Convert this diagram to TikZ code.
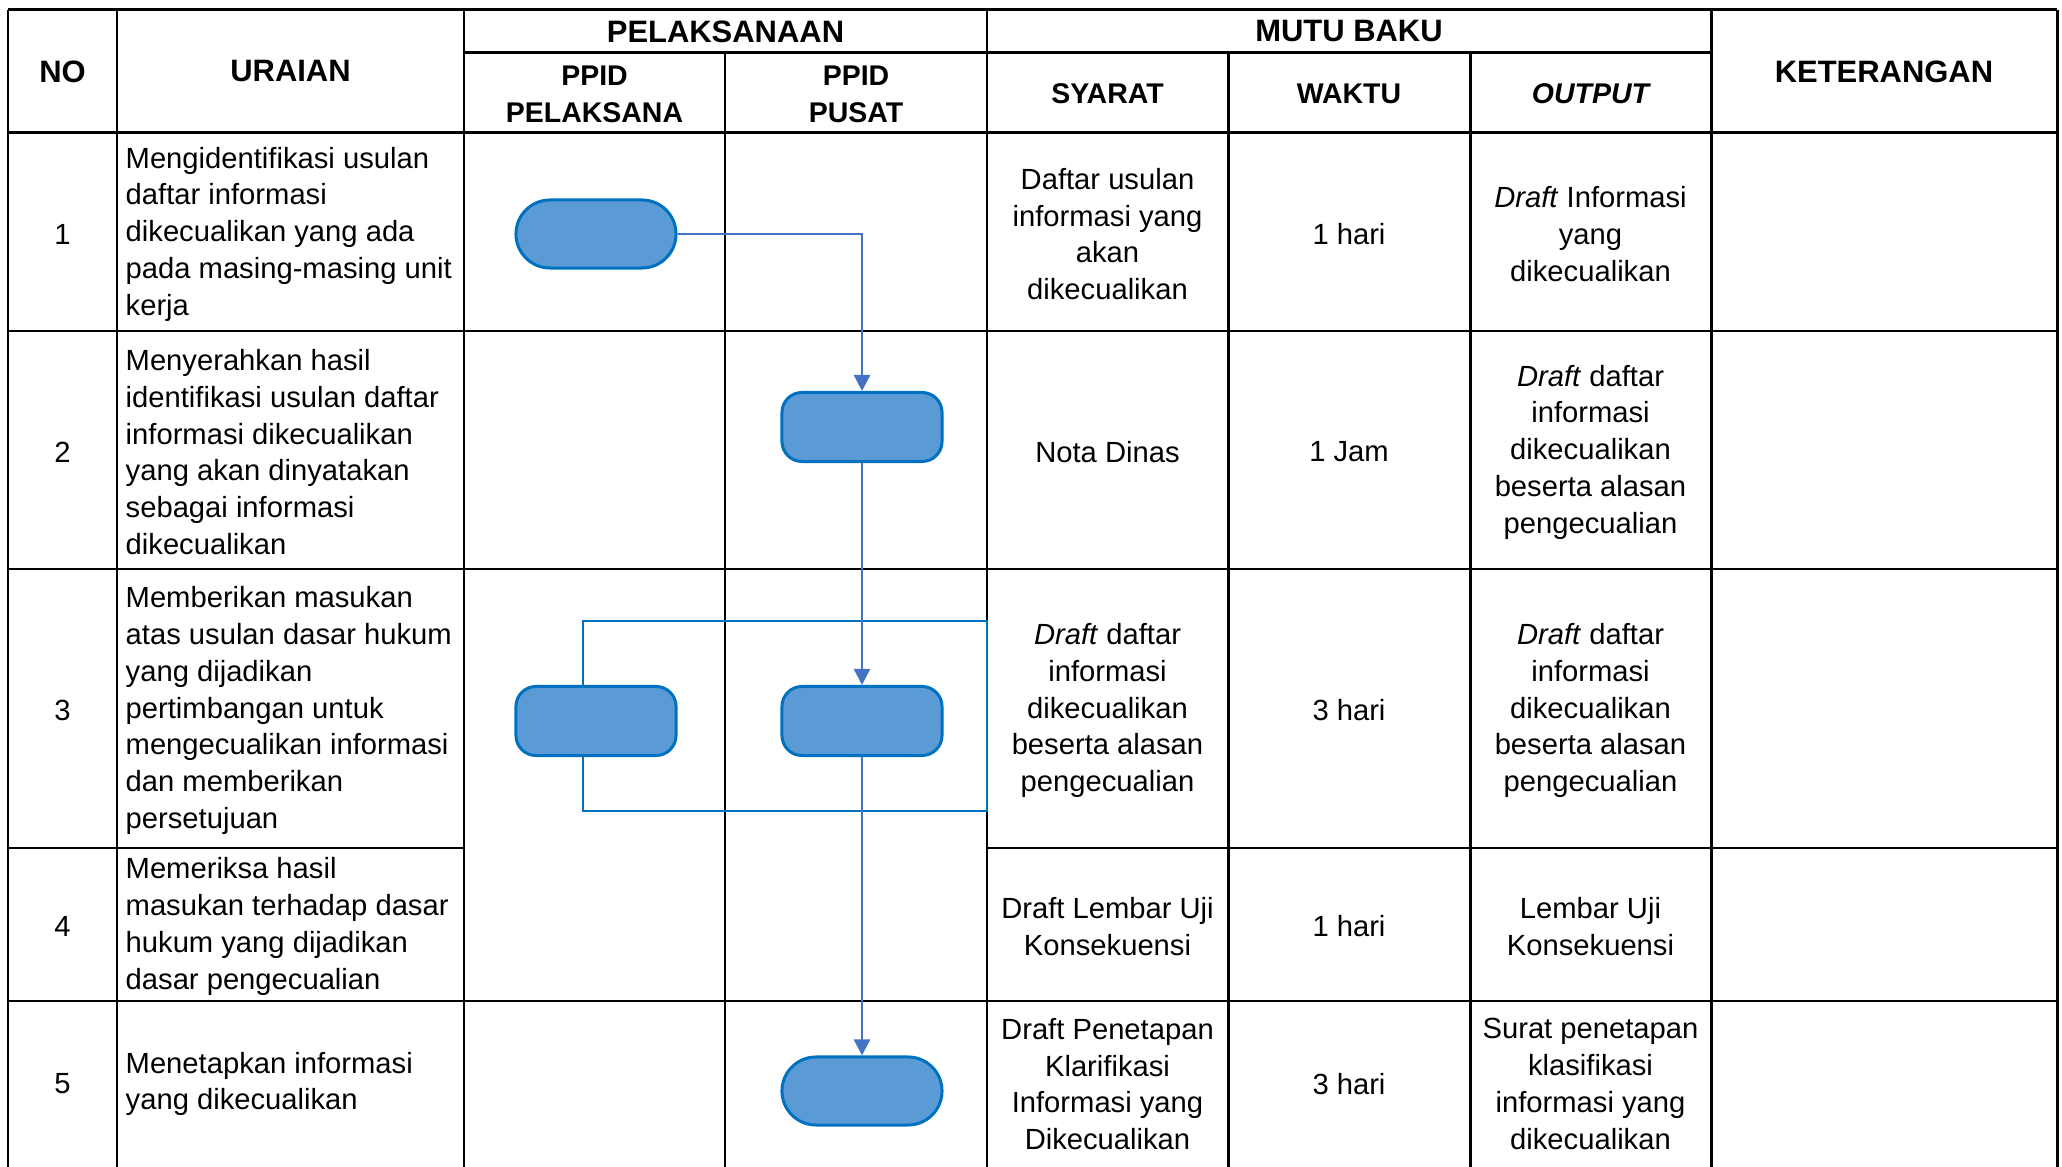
\documentclass[tikz,border=0pt]{standalone}
\usepackage{fontspec}
\setmainfont{Liberation Sans}
\usetikzlibrary{arrows.meta,calc}
\tikzset{>={Triangle[length=0.16cm,width=0.16cm]}}
\definecolor{boxfill}{HTML}{5B9BD5}
\definecolor{boxline}{HTML}{0070C0}
\definecolor{flowline}{HTML}{4472C4}
\tikzstyle{grid}=[line width=0.85pt,black]
\tikzstyle{cell}=[inner sep=0pt,align=center,font=\fontsize{8.3}{10.45}\selectfont]
\tikzstyle{celll}=[cell,align=left,anchor=west]
\tikzstyle{head}=[inner sep=0pt,align=center,font=\fontsize{8.8}{10.45}\selectfont\bfseries]
\tikzstyle{subhead}=[inner sep=0pt,align=center,font=\fontsize{8.1}{10.45}\selectfont\bfseries]
\tikzstyle{terminal}=[rectangle,draw=boxline,fill=boxfill,line width=0.85pt,minimum width=1.6cm,minimum height=0.68cm,rounded corners=0.34cm]
\tikzstyle{process}=[rectangle,draw=boxline,fill=boxfill,line width=0.85pt,minimum width=1.6cm,minimum height=0.69cm,rounded corners=0.2cm]
\tikzstyle{flow}=[->,draw=flowline,line width=0.7pt]
\tikzstyle{enclose}=[draw=boxline,line width=0.75pt]

\begin{document}
\begin{tikzpicture}[x=0.01cm,y=-0.01cm]
	\useasboundingbox (0,0) rectangle (2062,1167);
	\def \top {10};
	\def \sub {53};
	\def \bot {1167};
	\def \xpel {596};
	\def \xpus {862};

	% table lines
	\foreach \x in {8,117,464,987,1711,2057} {
		\draw[grid] (\x,\top) -- (\x,\bot);
	};
	\foreach \x in {725,1228,1470} {
		\draw[grid] (\x,\sub) -- (\x,\bot);
	};
	\foreach \y in {10,133,331,569,1001} {
		\draw[grid] (8,\y) -- (2057,\y);
	};
	\draw[grid] (464,\sub) -- (1711,\sub);
	\draw[grid] (8,848) -- (464,848);
	\draw[grid] (987,848) -- (2057,848);

	% header
	\node[head] (hNo) at (62.5,71.5) {NO};
	\node[head] (hUraian) at (290.5,71.5) {URAIAN};
	\node[head] (hPelaksanaan) at (725.5,31.5) {PELAKSANAAN};
	\node[head] (hMutu) at (1349,31.5) {MUTU BAKU};
	\node[subhead] (hPelaksana) at (594.5,94) {PPID\\PELAKSANA};
	\node[subhead] (hPusat) at (856,94) {PPID\\PUSAT};
	\node[subhead] (hSyarat) at (1107.5,94) {SYARAT};
	\node[subhead] (hWaktu) at (1349,94) {WAKTU};
	\node[subhead] (hOutput) at (1590.5,94) {\itshape OUTPUT};
	\node[head] (hKet) at (1884,71.5) {KETERANGAN};

	% rows
	\foreach \i/\y/\w in {1/234/1 hari, 2/452/1 Jam, 3/710.5/3 hari, 4/926.5/1 hari, 5/1084/3 hari} {
		\node[cell] (no\i) at (62.5,\y) {\i};
		\node[cell] (wk\i) at (1349,\y) {\w};
	};

	\node[celll] (ur1) at (125,234) {Mengidentifikasi usulan\\daftar informasi\\dikecualikan yang ada\\pada masing-masing unit\\kerja};
	\node[celll] (ur2) at (125,452) {Menyerahkan hasil\\identifikasi usulan daftar\\informasi dikecualikan\\yang akan dinyatakan\\sebagai informasi\\dikecualikan};
	\node[celll] (ur3) at (125,710.5) {Memberikan masukan\\atas usulan dasar hukum\\yang dijadikan\\pertimbangan untuk\\mengecualikan informasi\\dan memberikan\\persetujuan};
	\node[celll] (ur4) at (125,926.5) {Memeriksa hasil\\masukan terhadap dasar\\hukum yang dijadikan\\dasar pengecualian};
	\node[celll] (ur5) at (125,1084) {Menetapkan informasi\\yang dikecualikan};

	\node[cell] (sy1) at (1107.5,234) {Daftar usulan\\informasi yang\\akan\\dikecualikan};
	\node[cell] (sy2) at (1107.5,452) {Nota Dinas};
	\node[cell] (sy3) at (1107.5,710.5) {\textit{Draft} daftar\\informasi\\dikecualikan\\beserta alasan\\pengecualian};
	\node[cell] (sy4) at (1107.5,926.5) {Draft Lembar Uji\\Konsekuensi};
	\node[cell] (sy5) at (1107.5,1084) {Draft Penetapan\\Klarifikasi\\Informasi yang\\Dikecualikan};

	\node[cell] (out1) at (1590.5,234) {\textit{Draft} Informasi\\yang\\dikecualikan};
	\node[cell] (out2) at (1590.5,452) {\textit{Draft} daftar\\informasi\\dikecualikan\\beserta alasan\\pengecualian};
	\node[cell] (out3) at (1590.5,710.5) {\textit{Draft} daftar\\informasi\\dikecualikan\\beserta alasan\\pengecualian};
	\node[cell] (out4) at (1590.5,926.5) {Lembar Uji\\Konsekuensi};
	\node[cell] (out5) at (1590.5,1084) {Surat penetapan\\klasifikasi\\informasi yang\\dikecualikan};

	% flow
	\node[terminal] (t1) at (\xpel,234) {};
	\node[process] (p2) at (\xpus,427) {};
	\node[process] (p3a) at (\xpel,721) {};
	\node[process] (p3b) at (\xpus,721) {};
	\node[terminal] (t5) at (\xpus,1091) {};

	\coordinate (encTL) at (583,621);
	\coordinate (encTR) at (987,621);
	\coordinate (encBR) at (987,811);
	\coordinate (encBL) at (583,811);
	\draw[enclose] (p3a.north -| encTL) -- (encTL) -- (encTR) -- (encBR) -- (encBL) -- (p3a.south -| encBL);

	\draw[flow] (t1) -| (p2);
	\draw[flow] (p2) -- (p3b);
	\draw[flow] (p3b) -- (t5);
\end{tikzpicture}
\end{document}
